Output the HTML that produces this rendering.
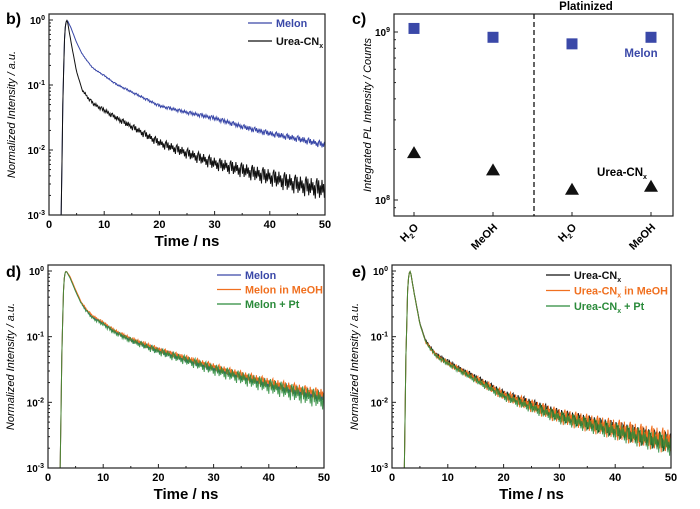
<!DOCTYPE html>
<html><head><meta charset="utf-8">
<style>
html,body{margin:0;padding:0;background:#fff;}
svg{display:block;font-family:"Liberation Sans",Arial,sans-serif;}
</style></head>
<body>
<svg id="fig" width="700" height="509" viewBox="0 0 700 509" xmlns="http://www.w3.org/2000/svg"></svg>
<script>
// ---- data ----
const times = [2.2,2.5,2.8,3.0,3.3,4,5,6,7,8,10,12,15,20,25,30,35,40,45,50];
const melonB = [0.0009,0.05,0.5,0.9,1,0.75,0.45,0.3,0.23,0.18,0.14,0.105,0.078,0.048,0.038,0.031,0.023,0.018,0.015,0.012];
const ureaB  = [0.0009,0.05,0.5,0.9,1,0.45,0.16,0.085,0.065,0.052,0.041,0.032,0.023,0.013,0.009,0.0063,0.005,0.0039,0.003,0.0025];
const melonD = [0.0009,0.05,0.5,0.9,1,0.8,0.5,0.33,0.25,0.2,0.16,0.12,0.09,0.062,0.045,0.033,0.025,0.019,0.015,0.012];
const melonMeOH = [0.0009,0.05,0.5,0.9,1,0.82,0.52,0.34,0.26,0.21,0.165,0.125,0.093,0.064,0.047,0.035,0.026,0.02,0.016,0.013];
const melonPt = [0.0009,0.05,0.5,0.9,1,0.78,0.49,0.32,0.245,0.195,0.155,0.118,0.088,0.06,0.044,0.032,0.024,0.018,0.014,0.011];
const ureaE = [0.0009,0.05,0.5,0.9,1,0.45,0.16,0.088,0.067,0.053,0.042,0.033,0.024,0.0135,0.0095,0.0065,0.0051,0.004,0.0031,0.0025];
const ureaMeOH = [0.0009,0.05,0.5,0.9,1,0.44,0.155,0.085,0.065,0.051,0.04,0.032,0.023,0.013,0.009,0.0063,0.005,0.004,0.0032,0.0026];
const ureaPt = [0.0009,0.05,0.5,0.9,1,0.44,0.155,0.084,0.064,0.05,0.039,0.031,0.022,0.0125,0.0085,0.006,0.0047,0.0037,0.0029,0.0023];
const cCats = ["H2O","MeOH","H2O","MeOH"];
const cMelon = [1.05e9,0.93e9,0.85e9,0.93e9];
const cUrea = [1.9e8,1.5e8,1.15e8,1.2e8];
const xTicks = [0,10,20,30,40,50];

const NS="http://www.w3.org/2000/svg";
const svg=document.getElementById('fig');
function el(tag,attrs,parent,text){const e=document.createElementNS(NS,tag);for(const k in attrs)e.setAttribute(k,attrs[k]);if(text!==undefined)e.textContent=text;(parent||svg).appendChild(e);return e;}

function logAxis(top,bottom,yTop,decades){
  const per=(bottom-yTop)/decades; return v=>yTop-Math.log10(v)*per;}
const pattern=[1,-0.6,0.8,-1,0.3,-0.7,0.9,-0.4,0.5,-0.9,0.2,-1.2,0.6];
function interp(arr,t){ if(t<=times[0])return arr[0]; for(let i=1;i<times.length;i++){ if(t<=times[i]){const f=(t-times[i-1])/(times[i]-times[i-1]);return Math.pow(10,Math.log10(arr[i-1])*(1-f)+Math.log10(arr[i])*f);} } return arr[arr.length-1];}

function decayPanel(g,X0,X1,Y0,Y1,yOne,series,name){
  const sx=t=>X0+(t/50)*(X1-X0);
  const sy=logAxis(Y0,Y1,yOne,3);
  const clip=el('clipPath',{id:'clip-'+name},g);
  el('rect',{x:X0,y:Y0,width:X1-X0,height:Y1-Y0},clip);
  series.forEach((s,si)=>{
    let pts=[];
    let k=si*3;
    for(let t=2.2;t<=50.001;t+=0.15){
      let v=interp(s.data,t);
      let amp = t>6 ? s.noise*(t/50) : 0;
      let lv=Math.log10(v)+amp*pattern[(k++)%pattern.length];
      pts.push(sx(t).toFixed(1)+','+sy(Math.pow(10,lv)).toFixed(1));
    }
    pts.unshift(sx(2.2).toFixed(1)+','+(Y1+5));
    const p=el('polyline',{points:pts.join(' '),fill:'none',stroke:s.color,'stroke-width':s.w||1,'clip-path':'url(#clip-'+name+')','stroke-opacity':s.op||1},g);
    
    
  });
  el('rect',{x:X0,y:Y0,width:X1-X0,height:Y1-Y0,fill:'none',stroke:'#222','stroke-width':1.2},g);
  xTicks.forEach(t=>{
    const x=sx(t);
    el('line',{x1:x,y1:Y1,x2:x,y2:Y1-4,stroke:'#222'},g);
    if(t<50) el('line',{x1:sx(t+5),y1:Y1,x2:sx(t+5),y2:Y1-2,stroke:'#222'},g);
    el('text',{x:x,y:Y1+13,'font-size':11,'font-weight':'bold','text-anchor':'middle'},g,t);
  });
  for(let d=0;d>=-3;d--){
    const y=sy(Math.pow(10,d));
    el('line',{x1:X0,y1:y,x2:X0+4,y2:y,stroke:'#222'},g);
    const tx=el('text',{x:X0-4,y:y+4,'font-size':10,'font-weight':'bold','text-anchor':'end'},g);
    el('tspan',{},tx,'10');
    el('tspan',{dy:-4,'font-size':7},tx,String(d));
    if(d<0) for(let m=2;m<10;m++){const ym=sy(m*Math.pow(10,d));el('line',{x1:X0,y1:ym,x2:X0+2,y2:ym,stroke:'#222'},g);}
  }
  const yt=el('text',{transform:`translate(${X0-34},${(Y0+Y1)/2}) rotate(-90)`,'font-size':11,'font-style':'italic','text-anchor':'middle'},g,'Normalized Intensity / a.u.');
  
  const xt=el('text',{x:(X0+X1)/2,y:Y1+31,'font-size':15,'font-weight':'bold','text-anchor':'middle'},g,'Time / ns');
  
}
function legend(g,x,y0,dy,items){
  items.forEach((it,i)=>{
    const y=y0+i*dy;
    const lg=el('g',{},g);
    
    
    el('line',{x1:x,y1:y,x2:x+24,y2:y,stroke:it.color,'stroke-width':1.2},lg);
    const t=el('text',{x:x+28,y:y+4,'font-size':10.8,'font-weight':'bold',fill:it.tcolor||it.color},lg);
    if(it.sub){el('tspan',{},t,'Urea-CN');el('tspan',{dy:3,'font-size':7},t,'x');el('tspan',{dy:-3},t,it.rest);}
    else t.textContent=it.label;
  });
}
const BLUE='#3a48a8', ORANGE='#f07020', GREEN='#2a8a3a';

// Panel b
const gb=el('g',{});  
decayPanel(gb,49,325,14,215,20,[
  {data:melonB,color:BLUE,noise:0.05,name:'melon-line'},
  {data:ureaB,color:'#111',noise:0.15,name:'urea-line'}],'b');
el('text',{x:6,y:24,'font-size':16,'font-weight':'bold'},gb,'b)');
legend(gb,248,23,18,[{label:'Melon',color:BLUE},{sub:true,rest:'',color:'#111'}]);

// Panel d
const gd=el('g',{});  
decayPanel(gd,48,324,265,468,271,[
  {data:melonD,color:BLUE,noise:0.07,name:'melon-line'},
  {data:melonMeOH,color:ORANGE,noise:0.09,name:'melon-meoh-line'},
  {data:melonPt,color:GREEN,noise:0.13,name:'melon-pt-line',op:0.85}],'d');
el('text',{x:6,y:277,'font-size':16,'font-weight':'bold'},gd,'d)');
legend(gd,217,275,14.5,[{label:'Melon',color:BLUE},{label:'Melon in MeOH',color:ORANGE},{label:'Melon + Pt',color:GREEN}]);

// Panel e
const ge=el('g',{});  
decayPanel(ge,392,671,265,468,271,[
  {data:ureaE,color:'#111',noise:0.14,name:'urea-line'},
  {data:ureaMeOH,color:ORANGE,noise:0.18,name:'urea-meoh-line'},
  {data:ureaPt,color:GREEN,noise:0.15,name:'urea-pt-line',op:0.85}],'e');
el('text',{x:352,y:277,'font-size':16,'font-weight':'bold'},ge,'e)');
legend(ge,546,275,15.5,[{sub:true,rest:'',color:'#111'},{sub:true,rest:' in MeOH',color:ORANGE},{sub:true,rest:' + Pt',color:GREEN}]);

// Panel c
const gc=el('g',{});  
const cX0=394,cX1=673,cY0=14,cY1=216;
const cy=v=>200-(Math.log10(v)-8)*168;
const cx=i=>414+i*79;
el('rect',{x:cX0,y:cY0,width:cX1-cX0,height:cY1-cY0,fill:'none',stroke:'#222','stroke-width':1.2},gc);
el('line',{x1:534,y1:cY0,x2:534,y2:cY1,stroke:'#111','stroke-width':1.3,'stroke-dasharray':'5,3'},gc);
[1e8,1e9].forEach(v=>{
  const y=cy(v); el('line',{x1:cX0,y1:y,x2:cX0+4,y2:y,stroke:'#222'},gc);
  const t=el('text',{x:cX0-4,y:y+4,'font-size':10,'font-weight':'bold','text-anchor':'end'},gc);
  el('tspan',{},t,'10');el('tspan',{dy:-4,'font-size':7},t,v===1e8?'8':'9');
});
for(let m=2;m<10;m++){const y=cy(m*1e8);el('line',{x1:cX0,y1:y,x2:cX0+2,y2:y,stroke:'#222'},gc);}
el('line',{x1:cX0,y1:cy(9e7),x2:cX0+2,y2:cy(9e7),stroke:'#222'},gc);
cCats.forEach((c,i)=>{
  const x=cx(i);
  el('line',{x1:x,y1:cY1,x2:x,y2:cY1-4,stroke:'#222'},gc);
  const t=el('text',{transform:`translate(${x+5},${cY1+12}) rotate(-45)`,'font-size':11,'font-weight':'bold','text-anchor':'end'},gc);
  if(c==='H2O'){el('tspan',{},t,'H');el('tspan',{dy:3,'font-size':7},t,'2');el('tspan',{dy:-3},t,'O');}
  else t.textContent=c;
});
cMelon.forEach((v,i)=>{
  const r=el('rect',{x:cx(i)-5.5,y:cy(v)-5.5,width:11,height:11,fill:BLUE},gc);
  
});
cUrea.forEach((v,i)=>{
  const x=cx(i),y=cy(v);
  const p=el('polygon',{points:`${x-7},${y+5} ${x+7},${y+5} ${x},${y-7}`,fill:'#111'},gc);
  
});
el('text',{x:586,y:10,'font-size':11.5,'font-weight':'bold','text-anchor':'middle'},gc,'Platinized');
el('text',{x:352,y:24,'font-size':16,'font-weight':'bold'},gc,'c)');
el('text',{x:641,y:57,'font-size':11.5,'font-weight':'bold','text-anchor':'middle',fill:BLUE},gc,'Melon');
const ul=el('text',{x:622,y:176,'font-size':11.5,'font-weight':'bold','text-anchor':'middle'},gc);
el('tspan',{},ul,'Urea-CN');el('tspan',{dy:3,'font-size':7},ul,'x');
el('text',{transform:`translate(371,${(cY0+cY1)/2}) rotate(-90)`,'font-size':11,'font-style':'italic','text-anchor':'middle'},gc,'Integrated PL Intensity / Counts');
</script>
</body></html>
